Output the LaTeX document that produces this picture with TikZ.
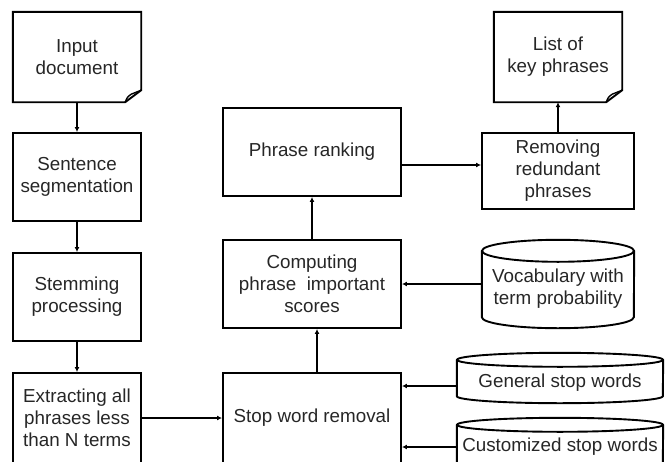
\documentclass[tikz,border=0pt]{standalone}
\usepackage{fontspec}
\setmainfont{Liberation Sans}
\usetikzlibrary{arrows.meta,calc}
\tikzset{
  lbl/.style={inner sep=0pt, align=center, font=\fontsize{18.8}{22}\selectfont, text=black!85},
  box/.style={lbl, draw, line width=1.9pt},
  shapeline/.style={line width=1.9pt, line join=miter},
  arr/.style={line width=1.9pt, -{Latex[length=5pt,width=5pt]}}
}
\begin{document}
\begin{tikzpicture}[x=1pt,y=1pt]
\useasboundingbox (0,0) rectangle (670,-461);
\clip (0,0) rectangle (670,-461);
% left column
\node[lbl, minimum width=128pt, minimum height=90pt] (inp) at (77,-57) {Input\\document};
\node[box, minimum width=128pt, minimum height=88pt] (sent) at (77,-177) {Sentence\\segmentation};
\node[box, minimum width=128pt, minimum height=88pt] (stem) at (77,-297) {Stemming\\processing};
\node[box, minimum width=128pt, minimum height=90pt] (ext) at (77,-418) {Extracting all\\phrases less\\than N terms};
% middle column
\node[box, minimum width=178pt, minimum height=88pt] (phr) at (312,-152) {Phrase ranking};
\node[box, minimum width=178pt, minimum height=88pt] (comp) at (312,-284) {Computing\\phrase\ \ important\\scores};
\node[box, minimum width=178pt, minimum height=90pt] (stop) at (312,-418) {Stop word removal};
% right column
\node[lbl, minimum width=128pt, minimum height=90pt] (list) at (558,-57) {List of\\key phrases};
\node[box, minimum width=152pt, minimum height=76pt] (rem) at (558,-171) {Removing\\redundant\\phrases};
\node[lbl, minimum width=152pt, minimum height=88pt] (voc) at (558,-284) {};
\node[lbl] at (558,-289) {Vocabulary with\\term probability};
\node[lbl, minimum width=206pt, minimum height=50pt] (gen) at (560,-378) {};
\node[lbl] at (560,-383) {General stop words};
\node[lbl, minimum width=206pt, minimum height=52pt] (cust) at (560,-444) {};
\node[lbl] at (560,-447) {Customized stop words};

% document shapes
\foreach \n in {inp,list}{
  \draw[shapeline] (\n.north west) -- (\n.north east) -- ([yshift=12pt]\n.south east)
    -- ([xshift=-16pt]\n.south east) -- (\n.south west) -- cycle;
  \draw[line width=1.4pt, line join=round] ([xshift=-16pt]\n.south east)
    .. controls ([xshift=-14pt,yshift=5pt]\n.south east) .. ([xshift=-10pt,yshift=8pt]\n.south east)
    -- ([yshift=12pt]\n.south east);
}
% cylinders
\draw[shapeline] ([yshift=-11pt]voc.north west) -- ([yshift=11pt]voc.south west)
  arc[start angle=180,end angle=360,x radius=76pt,y radius=11pt] -- ([yshift=-11pt]voc.north east);
\draw[shapeline] ([yshift=-11pt]voc.north) ellipse[x radius=76pt,y radius=11pt];
\draw[shapeline] ([yshift=-7pt]gen.north west) -- ([yshift=7pt]gen.south west)
  arc[start angle=180,end angle=360,x radius=103pt,y radius=7pt] -- ([yshift=-7pt]gen.north east);
\draw[shapeline] ([yshift=-7pt]gen.north) ellipse[x radius=103pt,y radius=7pt];
\draw[shapeline] ([yshift=-7pt]cust.north west) -- ([yshift=7pt]cust.south west)
  arc[start angle=180,end angle=360,x radius=103pt,y radius=7pt] -- ([yshift=-7pt]cust.north east);
\draw[shapeline] ([yshift=-7pt]cust.north) ellipse[x radius=103pt,y radius=7pt];

% connectors
\draw[arr] (inp.south) -- (sent.north);
\draw[arr] (sent.south) -- (stem.north);
\draw[arr] (stem.south) -- (ext.north);
\draw[arr] (ext.east) -- (stop.west);
\coordinate (s1) at ([xshift=5pt]stop.north);
\draw[arr] (s1) -- (s1 |- comp.south);
\draw[arr] (comp.north) -- (phr.south);
\coordinate (p1) at ([yshift=-13pt]phr.east);
\draw[arr] (p1) -- (p1 -| rem.west);
\draw[arr] (rem.north) -- (rem.north |- list.south);
\draw[arr] (voc.west) -- (comp.east);
\coordinate (g1) at ([yshift=-8pt]gen.west);
\draw[arr] (g1) -- (g1 -| stop.east);
\coordinate (c1) at ([yshift=-3pt]cust.west);
\draw[arr] (c1) -- (c1 -| stop.east);
\end{tikzpicture}
\end{document}
